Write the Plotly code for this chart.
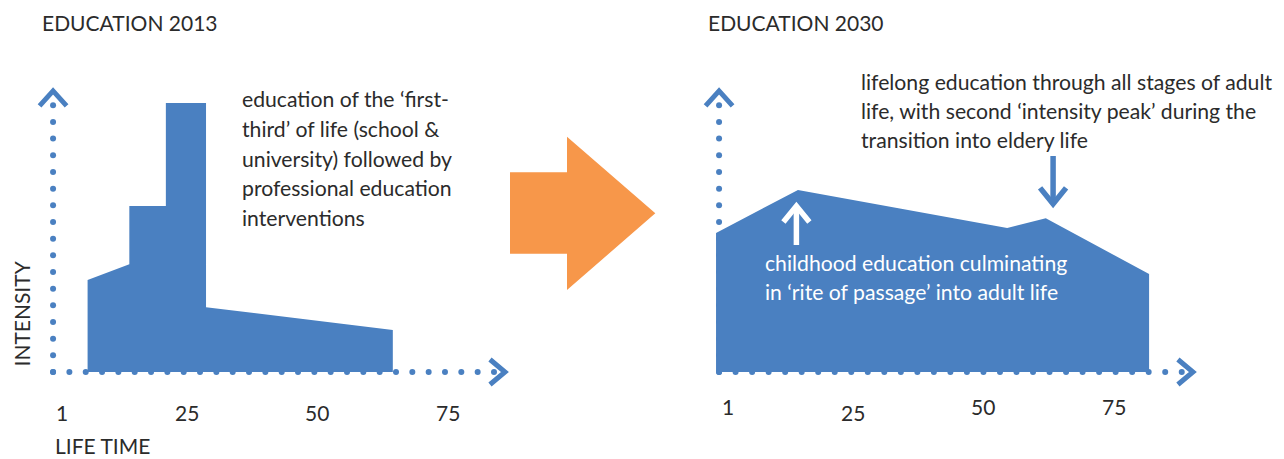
import numpy as np
import plotly.graph_objects as go

# ---------------- data ----------------
TITLE_LEFT = "EDUCATION 2013"
TITLE_RIGHT = "EDUCATION 2030"
Y_TITLE = "INTENSITY"
X_TITLE = "LIFE TIME"

# life time (age) and education intensity, 2013 profile
AGE_2013 = [6, 6, 14, 14, 21, 21, 28.7, 28.7, 64.5, 64.5]
INT_2013 = [0, 34.2, 40.1, 61.7, 61.7, 100, 100, 24.1, 15.6, 0]

# 2030 profile
AGE_2030 = [-1.2, -1.2, 14.5, 54.6, 62.0, 81.8, 81.8]
INT_2030 = [0, 51.7, 67.7, 53.5, 57.2, 36.4, 0]

TICK_VALS = [1, 25, 50, 75]
TICK_TEXT = ["1", "25", "50", "75"]

TEXT_2013 = ["education of the \u2018first-",
             "third\u2019 of life (school &amp;",
             "university) followed by",
             "professional education",
             "interventions"]
TEXT_2030_TOP = ["lifelong education through all stages of adult",
                 "life, with second \u2018intensity peak\u2019 during the",
                 "transition into eldery life"]
TEXT_2030_IN = ["childhood education culminating",
                "in \u2018rite of passage\u2019 into adult life"]

# annotation arrows (age, from intensity, to intensity)
UP_ARROW = (14.2, 47.2, 61.7)
DOWN_ARROW = (63.4, 80.3, 62.5)

# ---------------- styling / layout constants ----------------
W, H = 1284, 459
BLUE = "#4a80c1"
ORANGE = "#f7974a"
TXT = "#2b2b2b"
FONT = "Lato"

PX_PER_AGE = 5.2175
PX_PER_INT = 2.69
LEFT_ORIGIN = 56.29     # pixel of age 0, left panel
RIGHT_ORIGIN = 722.3    # pixel of age 0, right panel
BASE = 372              # pixel of intensity 0

AXIS_X = -0.62
AXIS_TOP = 104.5
X_END = {"x": 86.0, "x2": 90.2}
DOT_STEP_X = {"x": 3.13, "x2": 3.167}
DOT_N_X = {"x": 28, "x2": 29}


def xrange_for(origin, p0, p1):
    return [(p0 - origin) / PX_PER_AGE, (p1 - origin) / PX_PER_AGE]


yr = [(BASE - H) / PX_PER_INT, BASE / PX_PER_INT]

fig = go.Figure()


def dx(px):
    return px / PX_PER_AGE


def dy(px):
    return px / PX_PER_INT


def add_line(xs, ys, xa, ya, color=BLUE, width=5):
    fig.add_trace(go.Scatter(x=xs, y=ys, mode="lines", xaxis=xa, yaxis=ya,
                             line=dict(color=color, width=width), hoverinfo="skip",
                             showlegend=False))


for xa, ya in (("x", "y"), ("x2", "y2")):
    # dotted axes
    ydots = AXIS_X + np.zeros(17)
    fig.add_trace(go.Scatter(x=ydots, y=np.arange(17) * dy(16.67), mode="markers",
                             xaxis=xa, yaxis=ya, marker=dict(color=BLUE, size=6, line=dict(width=0)),
                             hoverinfo="skip", showlegend=False))
    xd = AXIS_X + np.arange(DOT_N_X[xa]) * DOT_STEP_X[xa]
    fig.add_trace(go.Scatter(x=xd, y=np.zeros(len(xd)), mode="markers",
                             xaxis=xa, yaxis=ya, marker=dict(color=BLUE, size=6, line=dict(width=0)),
                             hoverinfo="skip", showlegend=False))

# areas
fig.add_trace(go.Scatter(x=AGE_2013, y=INT_2013, mode="lines", fill="toself", fillcolor=BLUE,
                         line=dict(width=0, color=BLUE), xaxis="x", yaxis="y",
                         hoverinfo="skip", showlegend=False))
fig.add_trace(go.Scatter(x=AGE_2030, y=INT_2030, mode="lines", fill="toself", fillcolor=BLUE,
                         line=dict(width=0, color=BLUE), xaxis="x2", yaxis="y2",
                         hoverinfo="skip", showlegend=False))

# axis chevrons
for xa, ya in (("x", "y"), ("x2", "y2")):
    add_line([AXIS_X - dx(13.5), AXIS_X, AXIS_X + dx(13.5)],
             [AXIS_TOP - dy(15), AXIS_TOP, AXIS_TOP - dy(15)], xa, ya)
    xe = X_END[xa]
    add_line([xe - dx(15), xe, xe - dx(15)], [dy(12.5), 0, -dy(12.5)], xa, ya)

# arrows in the 2030 panel
ax, y0, y1 = UP_ARROW
add_line([ax, ax], [y0, y1 - dy(2)], "x2", "y2", color="white", width=5.5)
add_line([ax - dx(13), ax, ax + dx(13)], [y1 - dy(16), y1, y1 - dy(16)], "x2", "y2", color="white", width=5.5)
ax, y0, y1 = DOWN_ARROW
add_line([ax, ax], [y0, y1 + dy(2)], "x2", "y2", color=BLUE, width=5.5)
add_line([ax - dx(13), ax, ax + dx(13)], [y1 + dy(16), y1, y1 + dy(16)], "x2", "y2", color=BLUE, width=5.5)

# ---------------- text ----------------
FS = 21.2


def px(x):
    return x / W


def py(y):
    return 1 - y / H


def text_at(x, baseline, txt, color=TXT, size=FS, xanchor="left", xref="paper"):
    fig.add_annotation(x=x if xref != "paper" else px(x), y=py(baseline - 0.387 * size),
                       xref=xref, yref="paper", text=txt, showarrow=False,
                       xanchor=xanchor, yanchor="middle", borderpad=0,
                       font=dict(family=FONT, size=size, color=color))


text_at(41, 30.7, TITLE_LEFT, size=21)
text_at(707.3, 30.2, TITLE_RIGHT, size=21)

for i, t in enumerate(TEXT_2013):
    text_at(240.7, 107.3 + i * 29.8, t)
for i, t in enumerate(TEXT_2030_TOP):
    text_at(859.5, 90 + i * 29.3, t)
for i, t in enumerate(TEXT_2030_IN):
    text_at(764, 271 + i * 29.3, t, color="white")

# tick labels
for v, t in zip(TICK_VALS, TICK_TEXT):
    text_at(v, 420.5, t, size=21, xanchor="center", xref="x")
for v, t in zip(TICK_VALS, TICK_TEXT):
    text_at(v, 420.7 if t == "25" else 414.3, t, size=21, xanchor="center", xref="x2")

text_at(54.3, 453.8, X_TITLE, size=21)
fig.add_annotation(x=px(20.5), y=py(314), xref="paper", yref="paper", text=Y_TITLE,
                   showarrow=False, textangle=-90, xanchor="center", yanchor="middle",
                   borderpad=0, font=dict(family=FONT, size=21, color=TXT))

# big orange transition arrow (decoration)
pts = [(510, 172.3), (567, 172.3), (567, 136.7), (655.3, 213.3), (567, 290), (567, 253.7), (510, 253.7)]
path = "M " + " L ".join(f"{px(a):.5f},{py(b):.5f}" for a, b in pts) + " Z"
fig.add_shape(type="path", path=path, xref="paper", yref="paper",
              fillcolor=ORANGE, line=dict(width=0), layer="below")

fig.update_layout(
    width=W, height=H, margin=dict(l=0, r=0, t=0, b=0),
    plot_bgcolor="white", paper_bgcolor="white", showlegend=False,
    xaxis=dict(domain=[0, 0.5], range=xrange_for(LEFT_ORIGIN, 0, W / 2), visible=False, fixedrange=True),
    xaxis2=dict(domain=[0.5, 1], range=xrange_for(RIGHT_ORIGIN, W / 2, W), visible=False, fixedrange=True),
    yaxis=dict(domain=[0, 1], range=yr, visible=False, anchor="x", fixedrange=True),
    yaxis2=dict(domain=[0, 1], range=yr, visible=False, anchor="x2", fixedrange=True),
)

fig.write_html("out.html", config={"displayModeBar": False},
               post_script="document.body.style.margin='0';document.body.style.overflow='hidden';")
